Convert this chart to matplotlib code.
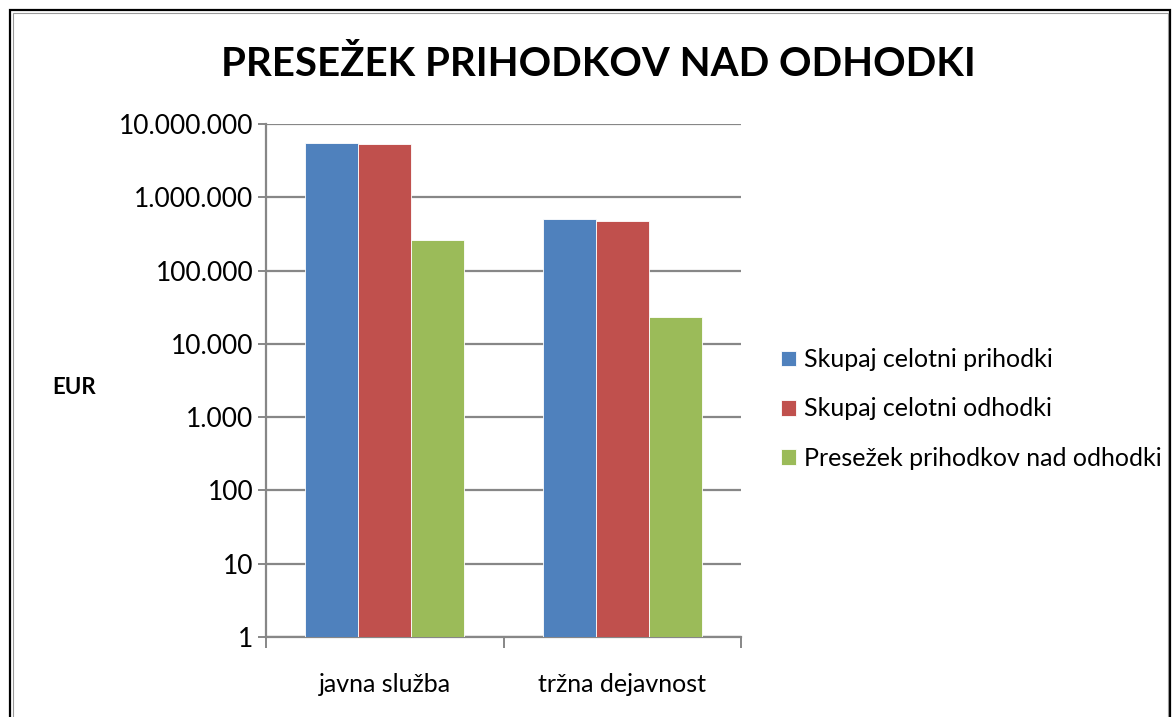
import matplotlib
matplotlib.use("Agg")
import matplotlib.pyplot as plt
from matplotlib.ticker import FixedLocator, FuncFormatter, NullFormatter
from matplotlib.patches import Rectangle

plt.rcParams['font.family'] = ['Lato', 'DejaVu Sans']

# data
categories = ["javna služba", "tržna dejavnost"]
series_names = ["Skupaj celotni prihodki", "Skupaj celotni odhodki", "Presežek prihodkov nad odhodki"]
prihodki = [5450000, 502000]
odhodki = [5280000, 481000]
presezek = [262000, 23600]
y_ticks = [1, 10, 100, 1000, 10000, 100000, 1000000, 10000000]

colors = ["#4F81BD", "#C0504D", "#9BBB59"]
grid_col = "#878787"

fig = plt.figure(figsize=(11.74, 7.17), dpi=100)

# outer chart frame (double line like the office export)
fig.patches.append(Rectangle((10 / 1174, -0.1), 1160 / 1174, 1.1 - 10 / 717, transform=fig.transFigure,
                             fill=False, edgecolor="black", linewidth=1.6))
fig.patches.append(Rectangle((12.5 / 1174, -0.1), 1155 / 1174, 1.1 - 12.5 / 717, transform=fig.transFigure,
                             fill=False, edgecolor="#9a9a9a", linewidth=0.8))

ax = fig.add_axes([266 / 1174, 80 / 717, 475 / 1174, 513 / 717])

width = 0.2225
x = range(len(categories))
all_series = [prihodki, odhodki, presezek]
for i, vals in enumerate(all_series):
    pos = [c + (i - 1) * width for c in x]
    ax.bar(pos, vals, width=width, color=colors[i], edgecolor="white", linewidth=0.6,
           label=series_names[i], zorder=3)

ax.set_yscale("log")
ax.set_ylim(1, 10000000)
ax.set_xlim(-0.5, 1.5)

ax.yaxis.set_major_locator(FixedLocator(y_ticks))
ax.yaxis.set_minor_formatter(NullFormatter())
ax.yaxis.set_minor_locator(FixedLocator([]))
ax.yaxis.set_major_formatter(FuncFormatter(lambda v, p: f"{int(round(v)):,}".replace(",", ".")))
ax.tick_params(axis="y", which="major", length=6, width=1.4, color=grid_col, labelsize=19, pad=3)

ax.set_xticks(list(x))
ax.set_xticklabels(categories)
ax.set_xticks([-0.5, 0.5, 1.5], minor=True)
ax.tick_params(axis="x", which="major", length=0, labelsize=18, pad=26)
ax.tick_params(axis="x", which="minor", length=8, width=1.4, color=grid_col)

ax.grid(True, axis="y", which="major", color=grid_col, linewidth=1.6, zorder=0)
ax.set_axisbelow(True)
for s in ["top", "right"]:
    ax.spines[s].set_visible(False)
for s in ["left", "bottom"]:
    ax.spines[s].set_color(grid_col)
    ax.spines[s].set_linewidth(1.6)

fig.text(598 / 1174, 1 - 65 / 717, "PRESEŽEK PRIHODKOV NAD ODHODKI", ha="center", va="center",
         fontsize=29, fontweight="bold")
fig.text(74 / 1174, 1 - 387 / 717, "EUR", ha="center", va="center", fontsize=16, fontweight="bold")

ax.legend(loc="center left", bbox_to_anchor=(781 / 1174, 1 - 409 / 717), bbox_transform=fig.transFigure,
          frameon=False, fontsize=18, handlelength=0.6, handleheight=0.6, handletextpad=0.3,
          labelspacing=1.05, borderaxespad=0, borderpad=0)

fig.savefig("out.png", dpi=100)
